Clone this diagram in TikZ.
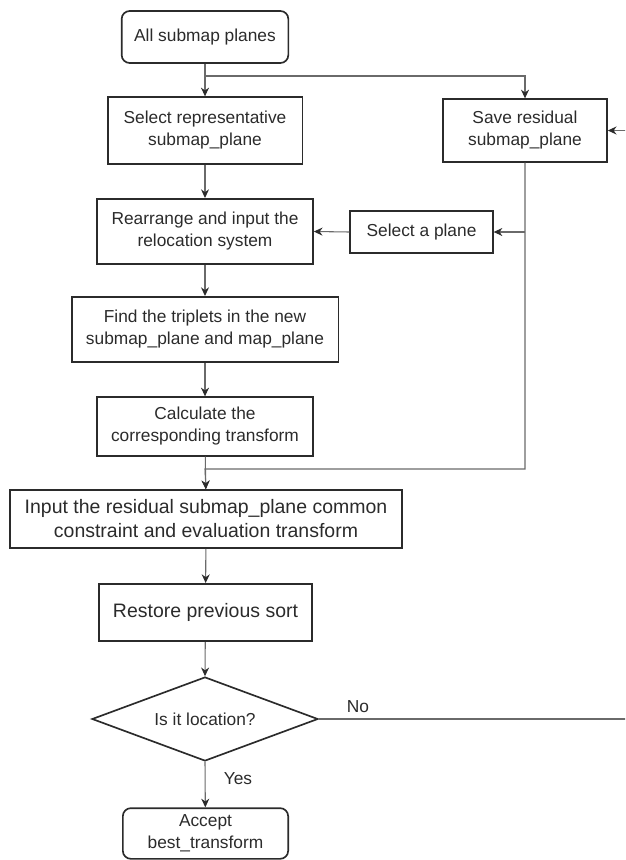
\documentclass[tikz,border=0pt]{standalone}
\usepackage{fontspec}
\setmainfont{Liberation Sans}
\usepackage{tikz}
\usetikzlibrary{arrows.meta,shapes.geometric,calc}
\definecolor{ink}{HTML}{2B2B2B}
\definecolor{wire}{HTML}{6A6A6A}
\tikzset{
  proc/.style={draw=ink,line width=1.25pt,text=ink,align=center,inner sep=0pt,font=\fontsize{13}{16.5}\selectfont},
  big/.style={font=\fontsize{14.6}{18}\selectfont},
  term/.style={proc,rounded corners=6pt},
  cond/.style={proc,diamond,aspect=2.7},
  link/.style={-{Stealth[length=6.5pt,width=6pt,color=ink]},draw=wire,line width=0.8pt},
  lbl/.style={text=ink,font=\fontsize{13}{16}\selectfont}
}

\begin{document}
\begin{tikzpicture}[x=0.75pt,y=-0.75pt]
\useasboundingbox (0,0) rectangle (625,860);
\clip (0,0) rectangle (625,860);
% main column
\node[term,minimum width=125pt,minimum height=39pt] (start) at (205,37) {All submap planes};
\node[proc,minimum width=146pt,minimum height=50pt] (selrep) at (205,130.5) {Select representative\\submap\_plane};
\node[proc,minimum width=162pt,minimum height=49pt] (rearr) at (205,231.5) {Rearrange and input the\\relocation system};
\node[proc,minimum width=200pt,minimum height=49pt] (find) at (205,329.5) {Find the triplets in the new\\submap\_plane and map\_plane};
\node[proc,minimum width=162pt,minimum height=44pt] (calc) at (205,426.5) {Calculate the\\corresponding transform};
\node[proc,big,minimum width=294pt,minimum height=43.5pt] (input) at (206,519) {Input the residual submap\_plane common\\constraint and evaluation transform};
\node[proc,big,minimum width=160pt,minimum height=43pt] (restore) at (205.5,612.5) {Restore previous sort};
\node[cond,minimum width=169.5pt,minimum height=63pt] (isloc) at (205,719) {Is it location?};
\node[term,minimum width=124pt,minimum height=38pt] (accept) at (205.5,833.5) {Accept\\best\_transform};
% right side
\node[proc,minimum width=123pt,minimum height=47pt] (save) at (525,130.5) {Save residual\\submap\_plane};
\node[proc,minimum width=107pt,minimum height=31.5pt] (selpl) at (421.5,232) {Select a plane};
\coordinate (fork) at (205,76);
\coordinate (join) at (205,469);
\coordinate (tap) at (save.south |- selpl.east);
\coordinate (back) at (640,0);
% connectors
\draw[link] (start) -- (selrep);
\draw[link] (fork) -| (save.north);
\draw[link] (selrep) -- (rearr);
\draw[link] (rearr) -- (find);
\draw[link] (find) -- (calc);
\draw[link] (calc) -- (input);
\draw[link] (save.south) |- (join) -- (input.north);
\draw[link] (tap) -- (selpl.east);
\draw[link] (selpl.west) -- (rearr.east);
\draw[link] (input) -- (restore);
\draw[link] (restore) -- (isloc.north);
\draw[link] (isloc.south) -- (accept);
\draw[link] (isloc.east) -| (back |- save.east) -- (save.east);
\node[lbl] (yes) at (238,779) {Yes};
\node[lbl] (no) at (358,707) {No};
\end{tikzpicture}
\end{document}
